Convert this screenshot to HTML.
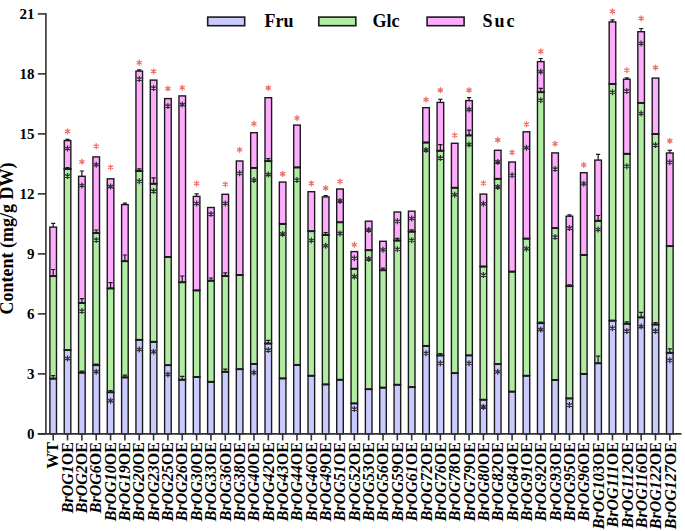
<!DOCTYPE html><html><head><meta charset="utf-8"><style>html,body{margin:0;padding:0;background:#fff;width:685px;height:531px;overflow:hidden}svg{display:block}text{font-family:"Liberation Serif",serif;font-weight:bold}</style></head><body>
<svg width="685" height="531" viewBox="0 0 685 531">
<rect x="49.9" y="378.6" width="6.6" height="55.3" fill="#cacaff" stroke="#1a1a1a" stroke-width="1.4"/>
<rect x="49.9" y="276.1" width="6.6" height="102.5" fill="#b0eca2" stroke="#1a1a1a" stroke-width="1.4"/>
<rect x="49.9" y="227.1" width="6.6" height="49" fill="#ffacff" stroke="#1a1a1a" stroke-width="1.4"/>
<path d="M49.6 378.6H56.8" stroke="#1a1a1a" stroke-width="1.9"/>
<path d="M49.6 276.1H56.8" stroke="#1a1a1a" stroke-width="1.9"/>
<path d="M53.2 378.6V375.7M51.1 375.7H55.3" stroke="#1a1a1a" stroke-width="1.2" fill="none"/>
<path d="M53.2 276.1V269.5M51.1 269.5H55.3" stroke="#1a1a1a" stroke-width="1.2" fill="none"/>
<path d="M53.2 227.1V223.4M51.1 223.4H55.3" stroke="#1a1a1a" stroke-width="1.2" fill="none"/>
<rect x="64.24" y="350.1" width="6.6" height="83.8" fill="#cacaff" stroke="#1a1a1a" stroke-width="1.4"/>
<rect x="64.24" y="168.9" width="6.6" height="181.2" fill="#b0eca2" stroke="#1a1a1a" stroke-width="1.4"/>
<rect x="64.24" y="140.6" width="6.6" height="28.3" fill="#ffacff" stroke="#1a1a1a" stroke-width="1.4"/>
<path d="M63.94 350.1H71.14" stroke="#1a1a1a" stroke-width="1.9"/>
<path d="M63.94 168.9H71.14" stroke="#1a1a1a" stroke-width="1.9"/>
<path d="M67.54 168.9V167.5M65.44 167.5H69.64" stroke="#1a1a1a" stroke-width="1.2" fill="none"/>
<path d="M67.54 140.6V139.3M65.44 139.3H69.64" stroke="#1a1a1a" stroke-width="1.2" fill="none"/>
<path d="M67.54 355.5L67.54 361.5M64.94 357L70.14 360M70.14 357L64.94 360" stroke="#2e2e38" stroke-width="1.25" stroke-linecap="butt" fill="none"/>
<path d="M67.54 173L67.54 179M64.94 174.5L70.14 177.5M70.14 174.5L64.94 177.5" stroke="#2e2e38" stroke-width="1.25" stroke-linecap="butt" fill="none"/>
<path d="M67.54 145.5L67.54 151.5M64.94 147L70.14 150M70.14 147L64.94 150" stroke="#2e2e38" stroke-width="1.25" stroke-linecap="butt" fill="none"/>
<path d="M67.54 128.9L67.54 133.9M65.37 130.15L69.71 132.65M69.71 130.15L65.37 132.65" stroke="#ee7068" stroke-width="1.3" stroke-linecap="round" fill="none"/>
<rect x="78.58" y="372.6" width="6.6" height="61.3" fill="#cacaff" stroke="#1a1a1a" stroke-width="1.4"/>
<rect x="78.58" y="303" width="6.6" height="69.6" fill="#b0eca2" stroke="#1a1a1a" stroke-width="1.4"/>
<rect x="78.58" y="176.3" width="6.6" height="126.7" fill="#ffacff" stroke="#1a1a1a" stroke-width="1.4"/>
<path d="M78.28 372.6H85.48" stroke="#1a1a1a" stroke-width="1.9"/>
<path d="M78.28 303H85.48" stroke="#1a1a1a" stroke-width="1.9"/>
<path d="M81.88 372.6V371.2M79.78 371.2H83.98" stroke="#1a1a1a" stroke-width="1.2" fill="none"/>
<path d="M81.88 303V298.6M79.78 298.6H83.98" stroke="#1a1a1a" stroke-width="1.2" fill="none"/>
<path d="M81.88 176.3V171M79.78 171H83.98" stroke="#1a1a1a" stroke-width="1.2" fill="none"/>
<path d="M81.88 308L81.88 314M79.28 309.5L84.48 312.5M84.48 309.5L79.28 312.5" stroke="#2e2e38" stroke-width="1.25" stroke-linecap="butt" fill="none"/>
<path d="M81.88 182.5L81.88 188.5M79.28 184L84.48 187M84.48 184L79.28 187" stroke="#2e2e38" stroke-width="1.25" stroke-linecap="butt" fill="none"/>
<path d="M81.88 159.2L81.88 164.2M79.71 160.45L84.05 162.95M84.05 160.45L79.71 162.95" stroke="#ee7068" stroke-width="1.3" stroke-linecap="round" fill="none"/>
<rect x="92.92" y="365.2" width="6.6" height="68.7" fill="#cacaff" stroke="#1a1a1a" stroke-width="1.4"/>
<rect x="92.92" y="233.1" width="6.6" height="132.1" fill="#b0eca2" stroke="#1a1a1a" stroke-width="1.4"/>
<rect x="92.92" y="156.9" width="6.6" height="76.2" fill="#ffacff" stroke="#1a1a1a" stroke-width="1.4"/>
<path d="M92.62 365.2H99.82" stroke="#1a1a1a" stroke-width="1.9"/>
<path d="M92.62 233.1H99.82" stroke="#1a1a1a" stroke-width="1.9"/>
<path d="M96.22 365.2V364.1M94.12 364.1H98.32" stroke="#1a1a1a" stroke-width="1.2" fill="none"/>
<path d="M96.22 233.1V230M94.12 230H98.32" stroke="#1a1a1a" stroke-width="1.2" fill="none"/>
<path d="M96.22 368.8L96.22 374.8M93.62 370.3L98.82 373.3M98.82 370.3L93.62 373.3" stroke="#2e2e38" stroke-width="1.25" stroke-linecap="butt" fill="none"/>
<path d="M96.22 237L96.22 243M93.62 238.5L98.82 241.5M98.82 238.5L93.62 241.5" stroke="#2e2e38" stroke-width="1.25" stroke-linecap="butt" fill="none"/>
<path d="M96.22 161.7L96.22 167.7M93.62 163.2L98.82 166.2M98.82 163.2L93.62 166.2" stroke="#2e2e38" stroke-width="1.25" stroke-linecap="butt" fill="none"/>
<path d="M96.22 143.7L96.22 148.7M94.05 144.95L98.39 147.45M98.39 144.95L94.05 147.45" stroke="#ee7068" stroke-width="1.3" stroke-linecap="round" fill="none"/>
<rect x="107.26" y="392.3" width="6.6" height="41.6" fill="#cacaff" stroke="#1a1a1a" stroke-width="1.4"/>
<rect x="107.26" y="288.4" width="6.6" height="103.9" fill="#b0eca2" stroke="#1a1a1a" stroke-width="1.4"/>
<rect x="107.26" y="178.8" width="6.6" height="109.6" fill="#ffacff" stroke="#1a1a1a" stroke-width="1.4"/>
<path d="M106.96 392.3H114.16" stroke="#1a1a1a" stroke-width="1.9"/>
<path d="M106.96 288.4H114.16" stroke="#1a1a1a" stroke-width="1.9"/>
<path d="M110.56 392.3V390.5M108.46 390.5H112.66" stroke="#1a1a1a" stroke-width="1.2" fill="none"/>
<path d="M110.56 288.4V282.7M108.46 282.7H112.66" stroke="#1a1a1a" stroke-width="1.2" fill="none"/>
<path d="M110.56 397.8L110.56 403.8M107.96 399.3L113.16 402.3M113.16 399.3L107.96 402.3" stroke="#2e2e38" stroke-width="1.25" stroke-linecap="butt" fill="none"/>
<path d="M110.56 183.6L110.56 189.6M107.96 185.1L113.16 188.1M113.16 185.1L107.96 188.1" stroke="#2e2e38" stroke-width="1.25" stroke-linecap="butt" fill="none"/>
<path d="M110.56 164.8L110.56 169.8M108.39 166.05L112.73 168.55M112.73 166.05L108.39 168.55" stroke="#ee7068" stroke-width="1.3" stroke-linecap="round" fill="none"/>
<rect x="121.6" y="377.4" width="6.6" height="56.5" fill="#cacaff" stroke="#1a1a1a" stroke-width="1.4"/>
<rect x="121.6" y="261.2" width="6.6" height="116.2" fill="#b0eca2" stroke="#1a1a1a" stroke-width="1.4"/>
<rect x="121.6" y="204.6" width="6.6" height="56.6" fill="#ffacff" stroke="#1a1a1a" stroke-width="1.4"/>
<path d="M121.3 377.4H128.5" stroke="#1a1a1a" stroke-width="1.9"/>
<path d="M121.3 261.2H128.5" stroke="#1a1a1a" stroke-width="1.9"/>
<path d="M124.9 377.4V375.2M122.8 375.2H127" stroke="#1a1a1a" stroke-width="1.2" fill="none"/>
<path d="M124.9 261.2V255M122.8 255H127" stroke="#1a1a1a" stroke-width="1.2" fill="none"/>
<path d="M124.9 204.6V203.2M122.8 203.2H127" stroke="#1a1a1a" stroke-width="1.2" fill="none"/>
<rect x="135.94" y="339.8" width="6.6" height="94.1" fill="#cacaff" stroke="#1a1a1a" stroke-width="1.4"/>
<rect x="135.94" y="171" width="6.6" height="168.8" fill="#b0eca2" stroke="#1a1a1a" stroke-width="1.4"/>
<rect x="135.94" y="71.1" width="6.6" height="99.9" fill="#ffacff" stroke="#1a1a1a" stroke-width="1.4"/>
<path d="M135.64 339.8H142.84" stroke="#1a1a1a" stroke-width="1.9"/>
<path d="M135.64 171H142.84" stroke="#1a1a1a" stroke-width="1.9"/>
<path d="M139.24 171V168.8M137.14 168.8H141.34" stroke="#1a1a1a" stroke-width="1.2" fill="none"/>
<path d="M139.24 71.1V69.8M137.14 69.8H141.34" stroke="#1a1a1a" stroke-width="1.2" fill="none"/>
<path d="M139.24 346.5L139.24 352.5M136.64 348L141.84 351M141.84 348L136.64 351" stroke="#2e2e38" stroke-width="1.25" stroke-linecap="butt" fill="none"/>
<path d="M139.24 178.2L139.24 184.2M136.64 179.7L141.84 182.7M141.84 179.7L136.64 182.7" stroke="#2e2e38" stroke-width="1.25" stroke-linecap="butt" fill="none"/>
<path d="M139.24 76L139.24 82M136.64 77.5L141.84 80.5M141.84 77.5L136.64 80.5" stroke="#2e2e38" stroke-width="1.25" stroke-linecap="butt" fill="none"/>
<path d="M139.24 60.2L139.24 65.2M137.07 61.45L141.41 63.95M141.41 61.45L137.07 63.95" stroke="#ee7068" stroke-width="1.3" stroke-linecap="round" fill="none"/>
<rect x="150.28" y="341.8" width="6.6" height="92.1" fill="#cacaff" stroke="#1a1a1a" stroke-width="1.4"/>
<rect x="150.28" y="183.7" width="6.6" height="158.1" fill="#b0eca2" stroke="#1a1a1a" stroke-width="1.4"/>
<rect x="150.28" y="80.1" width="6.6" height="103.6" fill="#ffacff" stroke="#1a1a1a" stroke-width="1.4"/>
<path d="M149.98 341.8H157.18" stroke="#1a1a1a" stroke-width="1.9"/>
<path d="M149.98 183.7H157.18" stroke="#1a1a1a" stroke-width="1.9"/>
<path d="M153.58 183.7V177.9M151.48 177.9H155.68" stroke="#1a1a1a" stroke-width="1.2" fill="none"/>
<path d="M153.58 348.7L153.58 354.7M150.98 350.2L156.18 353.2M156.18 350.2L150.98 353.2" stroke="#2e2e38" stroke-width="1.25" stroke-linecap="butt" fill="none"/>
<path d="M153.58 188.1L153.58 194.1M150.98 189.6L156.18 192.6M156.18 189.6L150.98 192.6" stroke="#2e2e38" stroke-width="1.25" stroke-linecap="butt" fill="none"/>
<path d="M153.58 85L153.58 91M150.98 86.5L156.18 89.5M156.18 86.5L150.98 89.5" stroke="#2e2e38" stroke-width="1.25" stroke-linecap="butt" fill="none"/>
<path d="M153.58 68.9L153.58 73.9M151.41 70.15L155.75 72.65M155.75 70.15L151.41 72.65" stroke="#ee7068" stroke-width="1.3" stroke-linecap="round" fill="none"/>
<rect x="164.62" y="365.2" width="6.6" height="68.7" fill="#cacaff" stroke="#1a1a1a" stroke-width="1.4"/>
<rect x="164.62" y="257" width="6.6" height="108.2" fill="#b0eca2" stroke="#1a1a1a" stroke-width="1.4"/>
<rect x="164.62" y="98.6" width="6.6" height="158.4" fill="#ffacff" stroke="#1a1a1a" stroke-width="1.4"/>
<path d="M164.32 365.2H171.52" stroke="#1a1a1a" stroke-width="1.9"/>
<path d="M164.32 257H171.52" stroke="#1a1a1a" stroke-width="1.9"/>
<path d="M167.92 371.4L167.92 377.4M165.32 372.9L170.52 375.9M170.52 372.9L165.32 375.9" stroke="#2e2e38" stroke-width="1.25" stroke-linecap="butt" fill="none"/>
<path d="M167.92 103L167.92 109M165.32 104.5L170.52 107.5M170.52 104.5L165.32 107.5" stroke="#2e2e38" stroke-width="1.25" stroke-linecap="butt" fill="none"/>
<path d="M167.92 86.1L167.92 91.1M165.75 87.35L170.09 89.85M170.09 87.35L165.75 89.85" stroke="#ee7068" stroke-width="1.3" stroke-linecap="round" fill="none"/>
<rect x="178.96" y="379.7" width="6.6" height="54.2" fill="#cacaff" stroke="#1a1a1a" stroke-width="1.4"/>
<rect x="178.96" y="282.3" width="6.6" height="97.4" fill="#b0eca2" stroke="#1a1a1a" stroke-width="1.4"/>
<rect x="178.96" y="95.9" width="6.6" height="186.4" fill="#ffacff" stroke="#1a1a1a" stroke-width="1.4"/>
<path d="M178.66 379.7H185.86" stroke="#1a1a1a" stroke-width="1.9"/>
<path d="M178.66 282.3H185.86" stroke="#1a1a1a" stroke-width="1.9"/>
<path d="M182.26 379.7V376.4M180.16 376.4H184.36" stroke="#1a1a1a" stroke-width="1.2" fill="none"/>
<path d="M182.26 282.3V276M180.16 276H184.36" stroke="#1a1a1a" stroke-width="1.2" fill="none"/>
<path d="M182.26 101.6L182.26 107.6M179.66 103.1L184.86 106.1M184.86 103.1L179.66 106.1" stroke="#2e2e38" stroke-width="1.25" stroke-linecap="butt" fill="none"/>
<path d="M182.26 85.3L182.26 90.3M180.09 86.55L184.43 89.05M184.43 86.55L180.09 89.05" stroke="#ee7068" stroke-width="1.3" stroke-linecap="round" fill="none"/>
<rect x="193.3" y="377" width="6.6" height="56.9" fill="#cacaff" stroke="#1a1a1a" stroke-width="1.4"/>
<rect x="193.3" y="290.4" width="6.6" height="86.6" fill="#b0eca2" stroke="#1a1a1a" stroke-width="1.4"/>
<rect x="193.3" y="196.4" width="6.6" height="94" fill="#ffacff" stroke="#1a1a1a" stroke-width="1.4"/>
<path d="M193 377H200.2" stroke="#1a1a1a" stroke-width="1.9"/>
<path d="M193 290.4H200.2" stroke="#1a1a1a" stroke-width="1.9"/>
<path d="M196.6 196.4V193.8M194.5 193.8H198.7" stroke="#1a1a1a" stroke-width="1.2" fill="none"/>
<path d="M196.6 200.5L196.6 206.5M194 202L199.2 205M199.2 202L194 205" stroke="#2e2e38" stroke-width="1.25" stroke-linecap="butt" fill="none"/>
<path d="M196.6 181L196.6 186M194.43 182.25L198.77 184.75M198.77 182.25L194.43 184.75" stroke="#ee7068" stroke-width="1.3" stroke-linecap="round" fill="none"/>
<rect x="207.64" y="381.8" width="6.6" height="52.1" fill="#cacaff" stroke="#1a1a1a" stroke-width="1.4"/>
<rect x="207.64" y="280.7" width="6.6" height="101.1" fill="#b0eca2" stroke="#1a1a1a" stroke-width="1.4"/>
<rect x="207.64" y="207.5" width="6.6" height="73.2" fill="#ffacff" stroke="#1a1a1a" stroke-width="1.4"/>
<path d="M207.34 381.8H214.54" stroke="#1a1a1a" stroke-width="1.9"/>
<path d="M207.34 280.7H214.54" stroke="#1a1a1a" stroke-width="1.9"/>
<path d="M210.94 280.7V278M208.84 278H213.04" stroke="#1a1a1a" stroke-width="1.2" fill="none"/>
<path d="M210.94 211.1L210.94 217.1M208.34 212.6L213.54 215.6M213.54 212.6L208.34 215.6" stroke="#2e2e38" stroke-width="1.25" stroke-linecap="butt" fill="none"/>
<rect x="221.98" y="371.8" width="6.6" height="62.1" fill="#cacaff" stroke="#1a1a1a" stroke-width="1.4"/>
<rect x="221.98" y="276" width="6.6" height="95.8" fill="#b0eca2" stroke="#1a1a1a" stroke-width="1.4"/>
<rect x="221.98" y="194.3" width="6.6" height="81.7" fill="#ffacff" stroke="#1a1a1a" stroke-width="1.4"/>
<path d="M221.68 371.8H228.88" stroke="#1a1a1a" stroke-width="1.9"/>
<path d="M221.68 276H228.88" stroke="#1a1a1a" stroke-width="1.9"/>
<path d="M225.28 371.8V369.1M223.18 369.1H227.38" stroke="#1a1a1a" stroke-width="1.2" fill="none"/>
<path d="M225.28 276V272.9M223.18 272.9H227.38" stroke="#1a1a1a" stroke-width="1.2" fill="none"/>
<path d="M225.28 200.5L225.28 206.5M222.68 202L227.88 205M227.88 202L222.68 205" stroke="#2e2e38" stroke-width="1.25" stroke-linecap="butt" fill="none"/>
<path d="M225.28 181.8L225.28 186.8M223.11 183.05L227.45 185.55M227.45 183.05L223.11 185.55" stroke="#ee7068" stroke-width="1.3" stroke-linecap="round" fill="none"/>
<rect x="236.32" y="369.2" width="6.6" height="64.7" fill="#cacaff" stroke="#1a1a1a" stroke-width="1.4"/>
<rect x="236.32" y="275" width="6.6" height="94.2" fill="#b0eca2" stroke="#1a1a1a" stroke-width="1.4"/>
<rect x="236.32" y="161" width="6.6" height="114" fill="#ffacff" stroke="#1a1a1a" stroke-width="1.4"/>
<path d="M236.02 369.2H243.22" stroke="#1a1a1a" stroke-width="1.9"/>
<path d="M236.02 275H243.22" stroke="#1a1a1a" stroke-width="1.9"/>
<path d="M239.62 170.3L239.62 176.3M237.02 171.8L242.22 174.8M242.22 171.8L237.02 174.8" stroke="#2e2e38" stroke-width="1.25" stroke-linecap="butt" fill="none"/>
<path d="M239.62 147.3L239.62 152.3M237.45 148.55L241.79 151.05M241.79 148.55L237.45 151.05" stroke="#ee7068" stroke-width="1.3" stroke-linecap="round" fill="none"/>
<rect x="250.66" y="363.9" width="6.6" height="70" fill="#cacaff" stroke="#1a1a1a" stroke-width="1.4"/>
<rect x="250.66" y="167.9" width="6.6" height="196" fill="#b0eca2" stroke="#1a1a1a" stroke-width="1.4"/>
<rect x="250.66" y="132.7" width="6.6" height="35.2" fill="#ffacff" stroke="#1a1a1a" stroke-width="1.4"/>
<path d="M250.36 363.9H257.56" stroke="#1a1a1a" stroke-width="1.9"/>
<path d="M250.36 167.9H257.56" stroke="#1a1a1a" stroke-width="1.9"/>
<path d="M253.96 369.6L253.96 375.6M251.36 371.1L256.56 374.1M256.56 371.1L251.36 374.1" stroke="#2e2e38" stroke-width="1.25" stroke-linecap="butt" fill="none"/>
<path d="M253.96 177L253.96 183M251.36 178.5L256.56 181.5M256.56 178.5L251.36 181.5" stroke="#2e2e38" stroke-width="1.25" stroke-linecap="butt" fill="none"/>
<path d="M253.96 121.2L253.96 126.2M251.79 122.45L256.13 124.95M256.13 122.45L251.79 124.95" stroke="#ee7068" stroke-width="1.3" stroke-linecap="round" fill="none"/>
<rect x="265" y="343.5" width="6.6" height="90.4" fill="#cacaff" stroke="#1a1a1a" stroke-width="1.4"/>
<rect x="265" y="161.1" width="6.6" height="182.4" fill="#b0eca2" stroke="#1a1a1a" stroke-width="1.4"/>
<rect x="265" y="97.7" width="6.6" height="63.4" fill="#ffacff" stroke="#1a1a1a" stroke-width="1.4"/>
<path d="M264.7 343.5H271.9" stroke="#1a1a1a" stroke-width="1.9"/>
<path d="M264.7 161.1H271.9" stroke="#1a1a1a" stroke-width="1.9"/>
<path d="M268.3 343.5V340.4M266.2 340.4H270.4" stroke="#1a1a1a" stroke-width="1.2" fill="none"/>
<path d="M268.3 161.1V158.6M266.2 158.6H270.4" stroke="#1a1a1a" stroke-width="1.2" fill="none"/>
<path d="M268.3 347.1L268.3 353.1M265.7 348.6L270.9 351.6M270.9 348.6L265.7 351.6" stroke="#2e2e38" stroke-width="1.25" stroke-linecap="butt" fill="none"/>
<path d="M268.3 171.6L268.3 177.6M265.7 173.1L270.9 176.1M270.9 173.1L265.7 176.1" stroke="#2e2e38" stroke-width="1.25" stroke-linecap="butt" fill="none"/>
<path d="M268.3 85.4L268.3 90.4M266.13 86.65L270.47 89.15M270.47 86.65L266.13 89.15" stroke="#ee7068" stroke-width="1.3" stroke-linecap="round" fill="none"/>
<rect x="279.34" y="378.4" width="6.6" height="55.5" fill="#cacaff" stroke="#1a1a1a" stroke-width="1.4"/>
<rect x="279.34" y="223.9" width="6.6" height="154.5" fill="#b0eca2" stroke="#1a1a1a" stroke-width="1.4"/>
<rect x="279.34" y="182.1" width="6.6" height="41.8" fill="#ffacff" stroke="#1a1a1a" stroke-width="1.4"/>
<path d="M279.04 378.4H286.24" stroke="#1a1a1a" stroke-width="1.9"/>
<path d="M279.04 223.9H286.24" stroke="#1a1a1a" stroke-width="1.9"/>
<path d="M282.64 230.9L282.64 236.9M280.04 232.4L285.24 235.4M285.24 232.4L280.04 235.4" stroke="#2e2e38" stroke-width="1.25" stroke-linecap="butt" fill="none"/>
<path d="M282.64 171.4L282.64 176.4M280.47 172.65L284.81 175.15M284.81 172.65L280.47 175.15" stroke="#ee7068" stroke-width="1.3" stroke-linecap="round" fill="none"/>
<rect x="293.68" y="364.9" width="6.6" height="69" fill="#cacaff" stroke="#1a1a1a" stroke-width="1.4"/>
<rect x="293.68" y="167.4" width="6.6" height="197.5" fill="#b0eca2" stroke="#1a1a1a" stroke-width="1.4"/>
<rect x="293.68" y="125.1" width="6.6" height="42.3" fill="#ffacff" stroke="#1a1a1a" stroke-width="1.4"/>
<path d="M293.38 364.9H300.58" stroke="#1a1a1a" stroke-width="1.9"/>
<path d="M293.38 167.4H300.58" stroke="#1a1a1a" stroke-width="1.9"/>
<path d="M296.98 177L296.98 183M294.38 178.5L299.58 181.5M299.58 178.5L294.38 181.5" stroke="#2e2e38" stroke-width="1.25" stroke-linecap="butt" fill="none"/>
<path d="M296.98 115.5L296.98 120.5M294.81 116.75L299.15 119.25M299.15 116.75L294.81 119.25" stroke="#ee7068" stroke-width="1.3" stroke-linecap="round" fill="none"/>
<rect x="308.02" y="375.7" width="6.6" height="58.2" fill="#cacaff" stroke="#1a1a1a" stroke-width="1.4"/>
<rect x="308.02" y="231.2" width="6.6" height="144.5" fill="#b0eca2" stroke="#1a1a1a" stroke-width="1.4"/>
<rect x="308.02" y="191.7" width="6.6" height="39.5" fill="#ffacff" stroke="#1a1a1a" stroke-width="1.4"/>
<path d="M307.72 375.7H314.92" stroke="#1a1a1a" stroke-width="1.9"/>
<path d="M307.72 231.2H314.92" stroke="#1a1a1a" stroke-width="1.9"/>
<path d="M311.32 237.5L311.32 243.5M308.72 239L313.92 242M313.92 239L308.72 242" stroke="#2e2e38" stroke-width="1.25" stroke-linecap="butt" fill="none"/>
<path d="M311.32 180.9L311.32 185.9M309.15 182.15L313.49 184.65M313.49 182.15L309.15 184.65" stroke="#ee7068" stroke-width="1.3" stroke-linecap="round" fill="none"/>
<rect x="322.36" y="384.4" width="6.6" height="49.5" fill="#cacaff" stroke="#1a1a1a" stroke-width="1.4"/>
<rect x="322.36" y="235" width="6.6" height="149.4" fill="#b0eca2" stroke="#1a1a1a" stroke-width="1.4"/>
<rect x="322.36" y="196.9" width="6.6" height="38.1" fill="#ffacff" stroke="#1a1a1a" stroke-width="1.4"/>
<path d="M322.06 384.4H329.26" stroke="#1a1a1a" stroke-width="1.9"/>
<path d="M322.06 235H329.26" stroke="#1a1a1a" stroke-width="1.9"/>
<path d="M325.66 235V232.6M323.56 232.6H327.76" stroke="#1a1a1a" stroke-width="1.2" fill="none"/>
<path d="M325.66 196.9V195.6M323.56 195.6H327.76" stroke="#1a1a1a" stroke-width="1.2" fill="none"/>
<path d="M325.66 242.8L325.66 248.8M323.06 244.3L328.26 247.3M328.26 244.3L323.06 247.3" stroke="#2e2e38" stroke-width="1.25" stroke-linecap="butt" fill="none"/>
<path d="M325.66 185.6L325.66 190.6M323.49 186.85L327.83 189.35M327.83 186.85L323.49 189.35" stroke="#ee7068" stroke-width="1.3" stroke-linecap="round" fill="none"/>
<rect x="336.7" y="379.7" width="6.6" height="54.2" fill="#cacaff" stroke="#1a1a1a" stroke-width="1.4"/>
<rect x="336.7" y="222.3" width="6.6" height="157.4" fill="#b0eca2" stroke="#1a1a1a" stroke-width="1.4"/>
<rect x="336.7" y="189" width="6.6" height="33.3" fill="#ffacff" stroke="#1a1a1a" stroke-width="1.4"/>
<path d="M336.4 379.7H343.6" stroke="#1a1a1a" stroke-width="1.9"/>
<path d="M336.4 222.3H343.6" stroke="#1a1a1a" stroke-width="1.9"/>
<path d="M340 230.4L340 236.4M337.4 231.9L342.6 234.9M342.6 231.9L337.4 234.9" stroke="#2e2e38" stroke-width="1.25" stroke-linecap="butt" fill="none"/>
<path d="M340 197.9L340 203.9M337.4 199.4L342.6 202.4M342.6 199.4L337.4 202.4" stroke="#2e2e38" stroke-width="1.25" stroke-linecap="butt" fill="none"/>
<path d="M340 179L340 184M337.83 180.25L342.17 182.75M342.17 180.25L337.83 182.75" stroke="#ee7068" stroke-width="1.3" stroke-linecap="round" fill="none"/>
<rect x="351.04" y="403.4" width="6.6" height="30.5" fill="#cacaff" stroke="#1a1a1a" stroke-width="1.4"/>
<rect x="351.04" y="268.7" width="6.6" height="134.7" fill="#b0eca2" stroke="#1a1a1a" stroke-width="1.4"/>
<rect x="351.04" y="251.6" width="6.6" height="17.1" fill="#ffacff" stroke="#1a1a1a" stroke-width="1.4"/>
<path d="M350.74 403.4H357.94" stroke="#1a1a1a" stroke-width="1.9"/>
<path d="M350.74 268.7H357.94" stroke="#1a1a1a" stroke-width="1.9"/>
<path d="M354.34 406L354.34 412M351.74 407.5L356.94 410.5M356.94 407.5L351.74 410.5" stroke="#2e2e38" stroke-width="1.25" stroke-linecap="butt" fill="none"/>
<path d="M354.34 273.6L354.34 279.6M351.74 275.1L356.94 278.1M356.94 275.1L351.74 278.1" stroke="#2e2e38" stroke-width="1.25" stroke-linecap="butt" fill="none"/>
<path d="M354.34 255.2L354.34 261.2M351.74 256.7L356.94 259.7M356.94 256.7L351.74 259.7" stroke="#2e2e38" stroke-width="1.25" stroke-linecap="butt" fill="none"/>
<path d="M354.34 242.2L354.34 247.2M352.17 243.45L356.51 245.95M356.51 243.45L352.17 245.95" stroke="#ee7068" stroke-width="1.3" stroke-linecap="round" fill="none"/>
<rect x="365.38" y="389.2" width="6.6" height="44.7" fill="#cacaff" stroke="#1a1a1a" stroke-width="1.4"/>
<rect x="365.38" y="250.2" width="6.6" height="139" fill="#b0eca2" stroke="#1a1a1a" stroke-width="1.4"/>
<rect x="365.38" y="221.2" width="6.6" height="29" fill="#ffacff" stroke="#1a1a1a" stroke-width="1.4"/>
<path d="M365.08 389.2H372.28" stroke="#1a1a1a" stroke-width="1.9"/>
<path d="M365.08 250.2H372.28" stroke="#1a1a1a" stroke-width="1.9"/>
<path d="M368.68 255.9L368.68 261.9M366.08 257.4L371.28 260.4M371.28 257.4L366.08 260.4" stroke="#2e2e38" stroke-width="1.25" stroke-linecap="butt" fill="none"/>
<path d="M368.68 226.9L368.68 232.9M366.08 228.4L371.28 231.4M371.28 228.4L366.08 231.4" stroke="#2e2e38" stroke-width="1.25" stroke-linecap="butt" fill="none"/>
<rect x="379.72" y="387.6" width="6.6" height="46.3" fill="#cacaff" stroke="#1a1a1a" stroke-width="1.4"/>
<rect x="379.72" y="270.3" width="6.6" height="117.3" fill="#b0eca2" stroke="#1a1a1a" stroke-width="1.4"/>
<rect x="379.72" y="241.3" width="6.6" height="29" fill="#ffacff" stroke="#1a1a1a" stroke-width="1.4"/>
<path d="M379.42 387.6H386.62" stroke="#1a1a1a" stroke-width="1.9"/>
<path d="M379.42 270.3H386.62" stroke="#1a1a1a" stroke-width="1.9"/>
<path d="M383.02 270.3V268.2M380.92 268.2H385.12" stroke="#1a1a1a" stroke-width="1.2" fill="none"/>
<path d="M383.02 246.7L383.02 252.7M380.42 248.2L385.62 251.2M385.62 248.2L380.42 251.2" stroke="#2e2e38" stroke-width="1.25" stroke-linecap="butt" fill="none"/>
<rect x="394.06" y="384.7" width="6.6" height="49.2" fill="#cacaff" stroke="#1a1a1a" stroke-width="1.4"/>
<rect x="394.06" y="240.5" width="6.6" height="144.2" fill="#b0eca2" stroke="#1a1a1a" stroke-width="1.4"/>
<rect x="394.06" y="212" width="6.6" height="28.5" fill="#ffacff" stroke="#1a1a1a" stroke-width="1.4"/>
<path d="M393.76 384.7H400.96" stroke="#1a1a1a" stroke-width="1.9"/>
<path d="M393.76 240.5H400.96" stroke="#1a1a1a" stroke-width="1.9"/>
<path d="M397.36 240.5V238.4M395.26 238.4H399.46" stroke="#1a1a1a" stroke-width="1.2" fill="none"/>
<path d="M397.36 246.2L397.36 252.2M394.76 247.7L399.96 250.7M399.96 247.7L394.76 250.7" stroke="#2e2e38" stroke-width="1.25" stroke-linecap="butt" fill="none"/>
<path d="M397.36 218.2L397.36 224.2M394.76 219.7L399.96 222.7M399.96 219.7L394.76 222.7" stroke="#2e2e38" stroke-width="1.25" stroke-linecap="butt" fill="none"/>
<rect x="408.4" y="387.1" width="6.6" height="46.8" fill="#cacaff" stroke="#1a1a1a" stroke-width="1.4"/>
<rect x="408.4" y="231.6" width="6.6" height="155.5" fill="#b0eca2" stroke="#1a1a1a" stroke-width="1.4"/>
<rect x="408.4" y="211.2" width="6.6" height="20.4" fill="#ffacff" stroke="#1a1a1a" stroke-width="1.4"/>
<path d="M408.1 387.1H415.3" stroke="#1a1a1a" stroke-width="1.9"/>
<path d="M408.1 231.6H415.3" stroke="#1a1a1a" stroke-width="1.9"/>
<path d="M411.7 231.6V229.9M409.6 229.9H413.8" stroke="#1a1a1a" stroke-width="1.2" fill="none"/>
<path d="M411.7 237.3L411.7 243.3M409.1 238.8L414.3 241.8M414.3 238.8L409.1 241.8" stroke="#2e2e38" stroke-width="1.25" stroke-linecap="butt" fill="none"/>
<path d="M411.7 215.5L411.7 221.5M409.1 217L414.3 220M414.3 217L409.1 220" stroke="#2e2e38" stroke-width="1.25" stroke-linecap="butt" fill="none"/>
<rect x="422.74" y="345.9" width="6.6" height="88" fill="#cacaff" stroke="#1a1a1a" stroke-width="1.4"/>
<rect x="422.74" y="142.5" width="6.6" height="203.4" fill="#b0eca2" stroke="#1a1a1a" stroke-width="1.4"/>
<rect x="422.74" y="107.7" width="6.6" height="34.8" fill="#ffacff" stroke="#1a1a1a" stroke-width="1.4"/>
<path d="M422.44 345.9H429.64" stroke="#1a1a1a" stroke-width="1.9"/>
<path d="M422.44 142.5H429.64" stroke="#1a1a1a" stroke-width="1.9"/>
<path d="M426.04 350.3L426.04 356.3M423.44 351.8L428.64 354.8M428.64 351.8L423.44 354.8" stroke="#2e2e38" stroke-width="1.25" stroke-linecap="butt" fill="none"/>
<path d="M426.04 146.9L426.04 152.9M423.44 148.4L428.64 151.4M428.64 148.4L423.44 151.4" stroke="#2e2e38" stroke-width="1.25" stroke-linecap="butt" fill="none"/>
<path d="M426.04 97.1L426.04 102.1M423.87 98.35L428.21 100.85M428.21 98.35L423.87 100.85" stroke="#ee7068" stroke-width="1.3" stroke-linecap="round" fill="none"/>
<rect x="437.08" y="355.4" width="6.6" height="78.5" fill="#cacaff" stroke="#1a1a1a" stroke-width="1.4"/>
<rect x="437.08" y="150.7" width="6.6" height="204.7" fill="#b0eca2" stroke="#1a1a1a" stroke-width="1.4"/>
<rect x="437.08" y="102.4" width="6.6" height="48.3" fill="#ffacff" stroke="#1a1a1a" stroke-width="1.4"/>
<path d="M436.78 355.4H443.98" stroke="#1a1a1a" stroke-width="1.9"/>
<path d="M436.78 150.7H443.98" stroke="#1a1a1a" stroke-width="1.9"/>
<path d="M440.38 355.4V353.6M438.28 353.6H442.48" stroke="#1a1a1a" stroke-width="1.2" fill="none"/>
<path d="M440.38 150.7V144.6M438.28 144.6H442.48" stroke="#1a1a1a" stroke-width="1.2" fill="none"/>
<path d="M440.38 102.4V99.3M438.28 99.3H442.48" stroke="#1a1a1a" stroke-width="1.2" fill="none"/>
<path d="M440.38 360.3L440.38 366.3M437.78 361.8L442.98 364.8M442.98 361.8L437.78 364.8" stroke="#2e2e38" stroke-width="1.25" stroke-linecap="butt" fill="none"/>
<path d="M440.38 155.1L440.38 161.1M437.78 156.6L442.98 159.6M442.98 156.6L437.78 159.6" stroke="#2e2e38" stroke-width="1.25" stroke-linecap="butt" fill="none"/>
<path d="M440.38 87.6L440.38 92.6M438.21 88.85L442.55 91.35M442.55 88.85L438.21 91.35" stroke="#ee7068" stroke-width="1.3" stroke-linecap="round" fill="none"/>
<rect x="451.42" y="373.1" width="6.6" height="60.8" fill="#cacaff" stroke="#1a1a1a" stroke-width="1.4"/>
<rect x="451.42" y="187.7" width="6.6" height="185.4" fill="#b0eca2" stroke="#1a1a1a" stroke-width="1.4"/>
<rect x="451.42" y="143.3" width="6.6" height="44.4" fill="#ffacff" stroke="#1a1a1a" stroke-width="1.4"/>
<path d="M451.12 373.1H458.32" stroke="#1a1a1a" stroke-width="1.9"/>
<path d="M451.12 187.7H458.32" stroke="#1a1a1a" stroke-width="1.9"/>
<path d="M454.72 191.8L454.72 197.8M452.12 193.3L457.32 196.3M457.32 193.3L452.12 196.3" stroke="#2e2e38" stroke-width="1.25" stroke-linecap="butt" fill="none"/>
<path d="M454.72 132.7L454.72 137.7M452.55 133.95L456.89 136.45M456.89 133.95L452.55 136.45" stroke="#ee7068" stroke-width="1.3" stroke-linecap="round" fill="none"/>
<rect x="465.76" y="355.4" width="6.6" height="78.5" fill="#cacaff" stroke="#1a1a1a" stroke-width="1.4"/>
<rect x="465.76" y="135.4" width="6.6" height="220" fill="#b0eca2" stroke="#1a1a1a" stroke-width="1.4"/>
<rect x="465.76" y="100.6" width="6.6" height="34.8" fill="#ffacff" stroke="#1a1a1a" stroke-width="1.4"/>
<path d="M465.46 355.4H472.66" stroke="#1a1a1a" stroke-width="1.9"/>
<path d="M465.46 135.4H472.66" stroke="#1a1a1a" stroke-width="1.9"/>
<path d="M469.06 135.4V130.1M466.96 130.1H471.16" stroke="#1a1a1a" stroke-width="1.2" fill="none"/>
<path d="M469.06 100.6V97.7M466.96 97.7H471.16" stroke="#1a1a1a" stroke-width="1.2" fill="none"/>
<path d="M469.06 360.3L469.06 366.3M466.46 361.8L471.66 364.8M471.66 361.8L466.46 364.8" stroke="#2e2e38" stroke-width="1.25" stroke-linecap="butt" fill="none"/>
<path d="M469.06 141.6L469.06 147.6M466.46 143.1L471.66 146.1M471.66 143.1L466.46 146.1" stroke="#2e2e38" stroke-width="1.25" stroke-linecap="butt" fill="none"/>
<path d="M469.06 106.6L469.06 112.6M466.46 108.1L471.66 111.1M471.66 108.1L466.46 111.1" stroke="#2e2e38" stroke-width="1.25" stroke-linecap="butt" fill="none"/>
<path d="M469.06 87.6L469.06 92.6M466.89 88.85L471.23 91.35M471.23 88.85L466.89 91.35" stroke="#ee7068" stroke-width="1.3" stroke-linecap="round" fill="none"/>
<rect x="480.1" y="399.7" width="6.6" height="34.2" fill="#cacaff" stroke="#1a1a1a" stroke-width="1.4"/>
<rect x="480.1" y="266.5" width="6.6" height="133.2" fill="#b0eca2" stroke="#1a1a1a" stroke-width="1.4"/>
<rect x="480.1" y="194.1" width="6.6" height="72.4" fill="#ffacff" stroke="#1a1a1a" stroke-width="1.4"/>
<path d="M479.8 399.7H487" stroke="#1a1a1a" stroke-width="1.9"/>
<path d="M479.8 266.5H487" stroke="#1a1a1a" stroke-width="1.9"/>
<path d="M483.4 403.9L483.4 409.9M480.8 405.4L486 408.4M486 405.4L480.8 408.4" stroke="#2e2e38" stroke-width="1.25" stroke-linecap="butt" fill="none"/>
<path d="M483.4 272L483.4 278M480.8 273.5L486 276.5M486 273.5L480.8 276.5" stroke="#2e2e38" stroke-width="1.25" stroke-linecap="butt" fill="none"/>
<path d="M483.4 200.8L483.4 206.8M480.8 202.3L486 205.3M486 202.3L480.8 205.3" stroke="#2e2e38" stroke-width="1.25" stroke-linecap="butt" fill="none"/>
<path d="M483.4 180.7L483.4 185.7M481.23 181.95L485.57 184.45M485.57 181.95L481.23 184.45" stroke="#ee7068" stroke-width="1.3" stroke-linecap="round" fill="none"/>
<rect x="494.44" y="364.1" width="6.6" height="69.8" fill="#cacaff" stroke="#1a1a1a" stroke-width="1.4"/>
<rect x="494.44" y="178.8" width="6.6" height="185.3" fill="#b0eca2" stroke="#1a1a1a" stroke-width="1.4"/>
<rect x="494.44" y="150.3" width="6.6" height="28.5" fill="#ffacff" stroke="#1a1a1a" stroke-width="1.4"/>
<path d="M494.14 364.1H501.34" stroke="#1a1a1a" stroke-width="1.9"/>
<path d="M494.14 178.8H501.34" stroke="#1a1a1a" stroke-width="1.9"/>
<path d="M497.74 368.8L497.74 374.8M495.14 370.3L500.34 373.3M500.34 370.3L495.14 373.3" stroke="#2e2e38" stroke-width="1.25" stroke-linecap="butt" fill="none"/>
<path d="M497.74 183.9L497.74 189.9M495.14 185.4L500.34 188.4M500.34 185.4L495.14 188.4" stroke="#2e2e38" stroke-width="1.25" stroke-linecap="butt" fill="none"/>
<path d="M497.74 158.9L497.74 164.9M495.14 160.4L500.34 163.4M500.34 160.4L495.14 163.4" stroke="#2e2e38" stroke-width="1.25" stroke-linecap="butt" fill="none"/>
<path d="M497.74 137.4L497.74 142.4M495.57 138.65L499.91 141.15M499.91 138.65L495.57 141.15" stroke="#ee7068" stroke-width="1.3" stroke-linecap="round" fill="none"/>
<rect x="508.78" y="391.6" width="6.6" height="42.3" fill="#cacaff" stroke="#1a1a1a" stroke-width="1.4"/>
<rect x="508.78" y="271.6" width="6.6" height="120" fill="#b0eca2" stroke="#1a1a1a" stroke-width="1.4"/>
<rect x="508.78" y="162" width="6.6" height="109.6" fill="#ffacff" stroke="#1a1a1a" stroke-width="1.4"/>
<path d="M508.48 391.6H515.68" stroke="#1a1a1a" stroke-width="1.9"/>
<path d="M508.48 271.6H515.68" stroke="#1a1a1a" stroke-width="1.9"/>
<path d="M512.08 172.2L512.08 178.2M509.48 173.7L514.68 176.7M514.68 173.7L509.48 176.7" stroke="#2e2e38" stroke-width="1.25" stroke-linecap="butt" fill="none"/>
<path d="M512.08 149.9L512.08 154.9M509.91 151.15L514.25 153.65M514.25 151.15L509.91 153.65" stroke="#ee7068" stroke-width="1.3" stroke-linecap="round" fill="none"/>
<rect x="523.12" y="375.7" width="6.6" height="58.2" fill="#cacaff" stroke="#1a1a1a" stroke-width="1.4"/>
<rect x="523.12" y="238.6" width="6.6" height="137.1" fill="#b0eca2" stroke="#1a1a1a" stroke-width="1.4"/>
<rect x="523.12" y="131.8" width="6.6" height="106.8" fill="#ffacff" stroke="#1a1a1a" stroke-width="1.4"/>
<path d="M522.82 375.7H530.02" stroke="#1a1a1a" stroke-width="1.9"/>
<path d="M522.82 238.6H530.02" stroke="#1a1a1a" stroke-width="1.9"/>
<path d="M526.42 245.7L526.42 251.7M523.82 247.2L529.02 250.2M529.02 247.2L523.82 250.2" stroke="#2e2e38" stroke-width="1.25" stroke-linecap="butt" fill="none"/>
<path d="M526.42 144.7L526.42 150.7M523.82 146.2L529.02 149.2M529.02 146.2L523.82 149.2" stroke="#2e2e38" stroke-width="1.25" stroke-linecap="butt" fill="none"/>
<path d="M526.42 121.7L526.42 126.7M524.25 122.95L528.59 125.45M528.59 122.95L524.25 125.45" stroke="#ee7068" stroke-width="1.3" stroke-linecap="round" fill="none"/>
<rect x="537.46" y="323.2" width="6.6" height="110.7" fill="#cacaff" stroke="#1a1a1a" stroke-width="1.4"/>
<rect x="537.46" y="92.2" width="6.6" height="231" fill="#b0eca2" stroke="#1a1a1a" stroke-width="1.4"/>
<rect x="537.46" y="61.6" width="6.6" height="30.6" fill="#ffacff" stroke="#1a1a1a" stroke-width="1.4"/>
<path d="M537.16 323.2H544.36" stroke="#1a1a1a" stroke-width="1.9"/>
<path d="M537.16 92.2H544.36" stroke="#1a1a1a" stroke-width="1.9"/>
<path d="M540.76 323.2V322.2M538.66 322.2H542.86" stroke="#1a1a1a" stroke-width="1.2" fill="none"/>
<path d="M540.76 92.2V88.3M538.66 88.3H542.86" stroke="#1a1a1a" stroke-width="1.2" fill="none"/>
<path d="M540.76 61.6V58.5M538.66 58.5H542.86" stroke="#1a1a1a" stroke-width="1.2" fill="none"/>
<path d="M540.76 326.6L540.76 332.6M538.16 328.1L543.36 331.1M543.36 328.1L538.16 331.1" stroke="#2e2e38" stroke-width="1.25" stroke-linecap="butt" fill="none"/>
<path d="M540.76 97.2L540.76 103.2M538.16 98.7L543.36 101.7M543.36 98.7L538.16 101.7" stroke="#2e2e38" stroke-width="1.25" stroke-linecap="butt" fill="none"/>
<path d="M540.76 68.7L540.76 74.7M538.16 70.2L543.36 73.2M543.36 70.2L538.16 73.2" stroke="#2e2e38" stroke-width="1.25" stroke-linecap="butt" fill="none"/>
<path d="M540.76 48.9L540.76 53.9M538.59 50.15L542.93 52.65M542.93 50.15L538.59 52.65" stroke="#ee7068" stroke-width="1.3" stroke-linecap="round" fill="none"/>
<rect x="551.8" y="380" width="6.6" height="53.9" fill="#cacaff" stroke="#1a1a1a" stroke-width="1.4"/>
<rect x="551.8" y="228.1" width="6.6" height="151.9" fill="#b0eca2" stroke="#1a1a1a" stroke-width="1.4"/>
<rect x="551.8" y="152.9" width="6.6" height="75.2" fill="#ffacff" stroke="#1a1a1a" stroke-width="1.4"/>
<path d="M551.5 380H558.7" stroke="#1a1a1a" stroke-width="1.9"/>
<path d="M551.5 228.1H558.7" stroke="#1a1a1a" stroke-width="1.9"/>
<path d="M555.1 234L555.1 240M552.5 235.5L557.7 238.5M557.7 235.5L552.5 238.5" stroke="#2e2e38" stroke-width="1.25" stroke-linecap="butt" fill="none"/>
<path d="M555.1 166L555.1 172M552.5 167.5L557.7 170.5M557.7 167.5L552.5 170.5" stroke="#2e2e38" stroke-width="1.25" stroke-linecap="butt" fill="none"/>
<path d="M555.1 141.2L555.1 146.2M552.93 142.45L557.27 144.95M557.27 142.45L552.93 144.95" stroke="#ee7068" stroke-width="1.3" stroke-linecap="round" fill="none"/>
<rect x="566.14" y="398.4" width="6.6" height="35.5" fill="#cacaff" stroke="#1a1a1a" stroke-width="1.4"/>
<rect x="566.14" y="286.1" width="6.6" height="112.3" fill="#b0eca2" stroke="#1a1a1a" stroke-width="1.4"/>
<rect x="566.14" y="216.2" width="6.6" height="69.9" fill="#ffacff" stroke="#1a1a1a" stroke-width="1.4"/>
<path d="M565.84 398.4H573.04" stroke="#1a1a1a" stroke-width="1.9"/>
<path d="M565.84 286.1H573.04" stroke="#1a1a1a" stroke-width="1.9"/>
<path d="M569.44 286.1V284.8M567.34 284.8H571.54" stroke="#1a1a1a" stroke-width="1.2" fill="none"/>
<path d="M569.44 216.2V214.9M567.34 214.9H571.54" stroke="#1a1a1a" stroke-width="1.2" fill="none"/>
<path d="M569.44 402L569.44 408M566.84 403.5L572.04 406.5M572.04 403.5L566.84 406.5" stroke="#2e2e38" stroke-width="1.25" stroke-linecap="butt" fill="none"/>
<path d="M569.44 225.1L569.44 231.1M566.84 226.6L572.04 229.6M572.04 226.6L566.84 229.6" stroke="#2e2e38" stroke-width="1.25" stroke-linecap="butt" fill="none"/>
<rect x="580.48" y="373.9" width="6.6" height="60" fill="#cacaff" stroke="#1a1a1a" stroke-width="1.4"/>
<rect x="580.48" y="255" width="6.6" height="118.9" fill="#b0eca2" stroke="#1a1a1a" stroke-width="1.4"/>
<rect x="580.48" y="172.7" width="6.6" height="82.3" fill="#ffacff" stroke="#1a1a1a" stroke-width="1.4"/>
<path d="M580.18 373.9H587.38" stroke="#1a1a1a" stroke-width="1.9"/>
<path d="M580.18 255H587.38" stroke="#1a1a1a" stroke-width="1.9"/>
<path d="M583.78 180.7L583.78 186.7M581.18 182.2L586.38 185.2M586.38 182.2L581.18 185.2" stroke="#2e2e38" stroke-width="1.25" stroke-linecap="butt" fill="none"/>
<path d="M583.78 162.5L583.78 167.5M581.61 163.75L585.95 166.25M585.95 163.75L581.61 166.25" stroke="#ee7068" stroke-width="1.3" stroke-linecap="round" fill="none"/>
<rect x="594.82" y="363.3" width="6.6" height="70.6" fill="#cacaff" stroke="#1a1a1a" stroke-width="1.4"/>
<rect x="594.82" y="220.8" width="6.6" height="142.5" fill="#b0eca2" stroke="#1a1a1a" stroke-width="1.4"/>
<rect x="594.82" y="160.1" width="6.6" height="60.7" fill="#ffacff" stroke="#1a1a1a" stroke-width="1.4"/>
<path d="M594.52 363.3H601.72" stroke="#1a1a1a" stroke-width="1.9"/>
<path d="M594.52 220.8H601.72" stroke="#1a1a1a" stroke-width="1.9"/>
<path d="M598.12 363.3V356.2M596.02 356.2H600.22" stroke="#1a1a1a" stroke-width="1.2" fill="none"/>
<path d="M598.12 220.8V215.5M596.02 215.5H600.22" stroke="#1a1a1a" stroke-width="1.2" fill="none"/>
<path d="M598.12 160.1V154.3M596.02 154.3H600.22" stroke="#1a1a1a" stroke-width="1.2" fill="none"/>
<path d="M598.12 226.5L598.12 232.5M595.52 228L600.72 231M600.72 228L595.52 231" stroke="#2e2e38" stroke-width="1.25" stroke-linecap="butt" fill="none"/>
<rect x="609.16" y="320.6" width="6.6" height="113.3" fill="#cacaff" stroke="#1a1a1a" stroke-width="1.4"/>
<rect x="609.16" y="83.9" width="6.6" height="236.7" fill="#b0eca2" stroke="#1a1a1a" stroke-width="1.4"/>
<rect x="609.16" y="21.9" width="6.6" height="62" fill="#ffacff" stroke="#1a1a1a" stroke-width="1.4"/>
<path d="M608.86 320.6H616.06" stroke="#1a1a1a" stroke-width="1.9"/>
<path d="M608.86 83.9H616.06" stroke="#1a1a1a" stroke-width="1.9"/>
<path d="M612.46 21.9V19.8M610.36 19.8H614.56" stroke="#1a1a1a" stroke-width="1.2" fill="none"/>
<path d="M612.46 325.2L612.46 331.2M609.86 326.7L615.06 329.7M615.06 326.7L609.86 329.7" stroke="#2e2e38" stroke-width="1.25" stroke-linecap="butt" fill="none"/>
<path d="M612.46 89.3L612.46 95.3M609.86 90.8L615.06 93.8M615.06 90.8L609.86 93.8" stroke="#2e2e38" stroke-width="1.25" stroke-linecap="butt" fill="none"/>
<path d="M612.46 8.9L612.46 13.9M610.29 10.15L614.63 12.65M614.63 10.15L610.29 12.65" stroke="#ee7068" stroke-width="1.3" stroke-linecap="round" fill="none"/>
<rect x="623.5" y="323.7" width="6.6" height="110.2" fill="#cacaff" stroke="#1a1a1a" stroke-width="1.4"/>
<rect x="623.5" y="153.8" width="6.6" height="169.9" fill="#b0eca2" stroke="#1a1a1a" stroke-width="1.4"/>
<rect x="623.5" y="79.2" width="6.6" height="74.6" fill="#ffacff" stroke="#1a1a1a" stroke-width="1.4"/>
<path d="M623.2 323.7H630.4" stroke="#1a1a1a" stroke-width="1.9"/>
<path d="M623.2 153.8H630.4" stroke="#1a1a1a" stroke-width="1.9"/>
<path d="M626.8 323.7V321.9M624.7 321.9H628.9" stroke="#1a1a1a" stroke-width="1.2" fill="none"/>
<path d="M626.8 79.2V77.8M624.7 77.8H628.9" stroke="#1a1a1a" stroke-width="1.2" fill="none"/>
<path d="M626.8 328.1L626.8 334.1M624.2 329.6L629.4 332.6M629.4 329.6L624.2 332.6" stroke="#2e2e38" stroke-width="1.25" stroke-linecap="butt" fill="none"/>
<path d="M626.8 163.2L626.8 169.2M624.2 164.7L629.4 167.7M629.4 164.7L624.2 167.7" stroke="#2e2e38" stroke-width="1.25" stroke-linecap="butt" fill="none"/>
<path d="M626.8 88L626.8 94M624.2 89.5L629.4 92.5M629.4 89.5L624.2 92.5" stroke="#2e2e38" stroke-width="1.25" stroke-linecap="butt" fill="none"/>
<path d="M626.8 67.7L626.8 72.7M624.63 68.95L628.97 71.45M628.97 68.95L624.63 71.45" stroke="#ee7068" stroke-width="1.3" stroke-linecap="round" fill="none"/>
<rect x="637.84" y="317.4" width="6.6" height="116.5" fill="#cacaff" stroke="#1a1a1a" stroke-width="1.4"/>
<rect x="637.84" y="102.9" width="6.6" height="214.5" fill="#b0eca2" stroke="#1a1a1a" stroke-width="1.4"/>
<rect x="637.84" y="31.7" width="6.6" height="71.2" fill="#ffacff" stroke="#1a1a1a" stroke-width="1.4"/>
<path d="M637.54 317.4H644.74" stroke="#1a1a1a" stroke-width="1.9"/>
<path d="M637.54 102.9H644.74" stroke="#1a1a1a" stroke-width="1.9"/>
<path d="M641.14 317.4V312.4M639.04 312.4H643.24" stroke="#1a1a1a" stroke-width="1.2" fill="none"/>
<path d="M641.14 31.7V28.5M639.04 28.5H643.24" stroke="#1a1a1a" stroke-width="1.2" fill="none"/>
<path d="M641.14 323.6L641.14 329.6M638.54 325.1L643.74 328.1M643.74 325.1L638.54 328.1" stroke="#2e2e38" stroke-width="1.25" stroke-linecap="butt" fill="none"/>
<path d="M641.14 110.5L641.14 116.5M638.54 112L643.74 115M643.74 112L638.54 115" stroke="#2e2e38" stroke-width="1.25" stroke-linecap="butt" fill="none"/>
<path d="M641.14 40.5L641.14 46.5M638.54 42L643.74 45M643.74 42L638.54 45" stroke="#2e2e38" stroke-width="1.25" stroke-linecap="butt" fill="none"/>
<path d="M641.14 15.9L641.14 20.9M638.97 17.15L643.31 19.65M643.31 17.15L638.97 19.65" stroke="#ee7068" stroke-width="1.3" stroke-linecap="round" fill="none"/>
<rect x="652.18" y="324.5" width="6.6" height="109.4" fill="#cacaff" stroke="#1a1a1a" stroke-width="1.4"/>
<rect x="652.18" y="134" width="6.6" height="190.5" fill="#b0eca2" stroke="#1a1a1a" stroke-width="1.4"/>
<rect x="652.18" y="78.1" width="6.6" height="55.9" fill="#ffacff" stroke="#1a1a1a" stroke-width="1.4"/>
<path d="M651.88 324.5H659.08" stroke="#1a1a1a" stroke-width="1.9"/>
<path d="M651.88 134H659.08" stroke="#1a1a1a" stroke-width="1.9"/>
<path d="M655.48 324.5V322.7M653.38 322.7H657.58" stroke="#1a1a1a" stroke-width="1.2" fill="none"/>
<path d="M655.48 328.1L655.48 334.1M652.88 329.6L658.08 332.6M658.08 329.6L652.88 332.6" stroke="#2e2e38" stroke-width="1.25" stroke-linecap="butt" fill="none"/>
<path d="M655.48 142.1L655.48 148.1M652.88 143.6L658.08 146.6M658.08 143.6L652.88 146.6" stroke="#2e2e38" stroke-width="1.25" stroke-linecap="butt" fill="none"/>
<path d="M655.48 65.1L655.48 70.1M653.31 66.35L657.65 68.85M657.65 66.35L653.31 68.85" stroke="#ee7068" stroke-width="1.3" stroke-linecap="round" fill="none"/>
<rect x="666.52" y="352.8" width="6.6" height="81.1" fill="#cacaff" stroke="#1a1a1a" stroke-width="1.4"/>
<rect x="666.52" y="246.1" width="6.6" height="106.7" fill="#b0eca2" stroke="#1a1a1a" stroke-width="1.4"/>
<rect x="666.52" y="153" width="6.6" height="93.1" fill="#ffacff" stroke="#1a1a1a" stroke-width="1.4"/>
<path d="M666.22 352.8H673.42" stroke="#1a1a1a" stroke-width="1.9"/>
<path d="M666.22 246.1H673.42" stroke="#1a1a1a" stroke-width="1.9"/>
<path d="M669.82 352.8V348.8M667.72 348.8H671.92" stroke="#1a1a1a" stroke-width="1.2" fill="none"/>
<path d="M669.82 153V150.3M667.72 150.3H671.92" stroke="#1a1a1a" stroke-width="1.2" fill="none"/>
<path d="M669.82 357.2L669.82 363.2M667.22 358.7L672.42 361.7M672.42 358.7L667.22 361.7" stroke="#2e2e38" stroke-width="1.25" stroke-linecap="butt" fill="none"/>
<path d="M669.82 159.2L669.82 165.2M667.22 160.7L672.42 163.7M672.42 160.7L667.22 163.7" stroke="#2e2e38" stroke-width="1.25" stroke-linecap="butt" fill="none"/>
<path d="M669.82 138.4L669.82 143.4M667.65 139.65L671.99 142.15M671.99 139.65L667.65 142.15" stroke="#ee7068" stroke-width="1.3" stroke-linecap="round" fill="none"/>
<path d="M45.9 13.3V434.6M37.8 433.9H681.5" stroke="#333333" stroke-width="1.6" fill="none"/>
<path d="M37.8 433.9H46" stroke="#333333" stroke-width="1.6"/>
<text x="34.5" y="438.7" font-size="15" text-anchor="end">0</text>
<path d="M37.8 373.9H46" stroke="#333333" stroke-width="1.6"/>
<text x="34.5" y="378.7" font-size="15" text-anchor="end">3</text>
<path d="M37.8 313.9H46" stroke="#333333" stroke-width="1.6"/>
<text x="34.5" y="318.7" font-size="15" text-anchor="end">6</text>
<path d="M37.8 253.9H46" stroke="#333333" stroke-width="1.6"/>
<text x="34.5" y="258.7" font-size="15" text-anchor="end">9</text>
<path d="M37.8 193.9H46" stroke="#333333" stroke-width="1.6"/>
<text x="34.5" y="198.7" font-size="15" text-anchor="end">12</text>
<path d="M37.8 133.9H46" stroke="#333333" stroke-width="1.6"/>
<text x="34.5" y="138.7" font-size="15" text-anchor="end">15</text>
<path d="M37.8 73.9H46" stroke="#333333" stroke-width="1.6"/>
<text x="34.5" y="78.7" font-size="15" text-anchor="end">18</text>
<path d="M37.8 13.9H46" stroke="#333333" stroke-width="1.6"/>
<text x="34.5" y="18.7" font-size="15" text-anchor="end">21</text>
<path d="M53.2 433.9V440.4" stroke="#333333" stroke-width="1.6"/>
<text transform="translate(58.2 442) rotate(-90)" x="0" y="0" font-size="16" text-anchor="end">WT</text>
<path d="M67.54 433.9V440.4" stroke="#333333" stroke-width="1.6"/>
<text transform="translate(72.56 442) rotate(-90)" x="0" y="0" font-size="16" text-anchor="end"><tspan font-style="italic">BrOG1</tspan>OE</text>
<path d="M81.88 433.9V440.4" stroke="#333333" stroke-width="1.6"/>
<text transform="translate(86.92 442) rotate(-90)" x="0" y="0" font-size="16" text-anchor="end"><tspan font-style="italic">BrOG2</tspan>OE</text>
<path d="M96.22 433.9V440.4" stroke="#333333" stroke-width="1.6"/>
<text transform="translate(101.28 442) rotate(-90)" x="0" y="0" font-size="16" text-anchor="end"><tspan font-style="italic">BrOG6</tspan>OE</text>
<path d="M110.56 433.9V440.4" stroke="#333333" stroke-width="1.6"/>
<text transform="translate(115.63 442) rotate(-90)" x="0" y="0" font-size="16" text-anchor="end"><tspan font-style="italic">BrOG10</tspan>OE</text>
<path d="M124.9 433.9V440.4" stroke="#333333" stroke-width="1.6"/>
<text transform="translate(129.99 442) rotate(-90)" x="0" y="0" font-size="16" text-anchor="end"><tspan font-style="italic">BrOG19</tspan>OE</text>
<path d="M139.24 433.9V440.4" stroke="#333333" stroke-width="1.6"/>
<text transform="translate(144.35 442) rotate(-90)" x="0" y="0" font-size="16" text-anchor="end"><tspan font-style="italic">BrOG20</tspan>OE</text>
<path d="M153.58 433.9V440.4" stroke="#333333" stroke-width="1.6"/>
<text transform="translate(158.71 442) rotate(-90)" x="0" y="0" font-size="16" text-anchor="end"><tspan font-style="italic">BrOG23</tspan>OE</text>
<path d="M167.92 433.9V440.4" stroke="#333333" stroke-width="1.6"/>
<text transform="translate(173.07 442) rotate(-90)" x="0" y="0" font-size="16" text-anchor="end"><tspan font-style="italic">BrOG25</tspan>OE</text>
<path d="M182.26 433.9V440.4" stroke="#333333" stroke-width="1.6"/>
<text transform="translate(187.43 442) rotate(-90)" x="0" y="0" font-size="16" text-anchor="end"><tspan font-style="italic">BrOG26</tspan>OE</text>
<path d="M196.6 433.9V440.4" stroke="#333333" stroke-width="1.6"/>
<text transform="translate(201.79 442) rotate(-90)" x="0" y="0" font-size="16" text-anchor="end"><tspan font-style="italic">BrOG30</tspan>OE</text>
<path d="M210.94 433.9V440.4" stroke="#333333" stroke-width="1.6"/>
<text transform="translate(216.14 442) rotate(-90)" x="0" y="0" font-size="16" text-anchor="end"><tspan font-style="italic">BrOG33</tspan>OE</text>
<path d="M225.28 433.9V440.4" stroke="#333333" stroke-width="1.6"/>
<text transform="translate(230.5 442) rotate(-90)" x="0" y="0" font-size="16" text-anchor="end"><tspan font-style="italic">BrOG36</tspan>OE</text>
<path d="M239.62 433.9V440.4" stroke="#333333" stroke-width="1.6"/>
<text transform="translate(244.86 442) rotate(-90)" x="0" y="0" font-size="16" text-anchor="end"><tspan font-style="italic">BrOG38</tspan>OE</text>
<path d="M253.96 433.9V440.4" stroke="#333333" stroke-width="1.6"/>
<text transform="translate(259.22 442) rotate(-90)" x="0" y="0" font-size="16" text-anchor="end"><tspan font-style="italic">BrOG40</tspan>OE</text>
<path d="M268.3 433.9V440.4" stroke="#333333" stroke-width="1.6"/>
<text transform="translate(273.58 442) rotate(-90)" x="0" y="0" font-size="16" text-anchor="end"><tspan font-style="italic">BrOG42</tspan>OE</text>
<path d="M282.64 433.9V440.4" stroke="#333333" stroke-width="1.6"/>
<text transform="translate(287.94 442) rotate(-90)" x="0" y="0" font-size="16" text-anchor="end"><tspan font-style="italic">BrOG43</tspan>OE</text>
<path d="M296.98 433.9V440.4" stroke="#333333" stroke-width="1.6"/>
<text transform="translate(302.3 442) rotate(-90)" x="0" y="0" font-size="16" text-anchor="end"><tspan font-style="italic">BrOG44</tspan>OE</text>
<path d="M311.32 433.9V440.4" stroke="#333333" stroke-width="1.6"/>
<text transform="translate(316.65 442) rotate(-90)" x="0" y="0" font-size="16" text-anchor="end"><tspan font-style="italic">BrOG46</tspan>OE</text>
<path d="M325.66 433.9V440.4" stroke="#333333" stroke-width="1.6"/>
<text transform="translate(331.01 442) rotate(-90)" x="0" y="0" font-size="16" text-anchor="end"><tspan font-style="italic">BrOG49</tspan>OE</text>
<path d="M340 433.9V440.4" stroke="#333333" stroke-width="1.6"/>
<text transform="translate(345.37 442) rotate(-90)" x="0" y="0" font-size="16" text-anchor="end"><tspan font-style="italic">BrOG51</tspan>OE</text>
<path d="M354.34 433.9V440.4" stroke="#333333" stroke-width="1.6"/>
<text transform="translate(359.73 442) rotate(-90)" x="0" y="0" font-size="16" text-anchor="end"><tspan font-style="italic">BrOG52</tspan>OE</text>
<path d="M368.68 433.9V440.4" stroke="#333333" stroke-width="1.6"/>
<text transform="translate(374.09 442) rotate(-90)" x="0" y="0" font-size="16" text-anchor="end"><tspan font-style="italic">BrOG53</tspan>OE</text>
<path d="M383.02 433.9V440.4" stroke="#333333" stroke-width="1.6"/>
<text transform="translate(388.45 442) rotate(-90)" x="0" y="0" font-size="16" text-anchor="end"><tspan font-style="italic">BrOG56</tspan>OE</text>
<path d="M397.36 433.9V440.4" stroke="#333333" stroke-width="1.6"/>
<text transform="translate(402.81 442) rotate(-90)" x="0" y="0" font-size="16" text-anchor="end"><tspan font-style="italic">BrOG59</tspan>OE</text>
<path d="M411.7 433.9V440.4" stroke="#333333" stroke-width="1.6"/>
<text transform="translate(417.17 442) rotate(-90)" x="0" y="0" font-size="16" text-anchor="end"><tspan font-style="italic">BrOG61</tspan>OE</text>
<path d="M426.04 433.9V440.4" stroke="#333333" stroke-width="1.6"/>
<text transform="translate(431.52 442) rotate(-90)" x="0" y="0" font-size="16" text-anchor="end"><tspan font-style="italic">BrOG72</tspan>OE</text>
<path d="M440.38 433.9V440.4" stroke="#333333" stroke-width="1.6"/>
<text transform="translate(445.88 442) rotate(-90)" x="0" y="0" font-size="16" text-anchor="end"><tspan font-style="italic">BrOG76</tspan>OE</text>
<path d="M454.72 433.9V440.4" stroke="#333333" stroke-width="1.6"/>
<text transform="translate(460.24 442) rotate(-90)" x="0" y="0" font-size="16" text-anchor="end"><tspan font-style="italic">BrOG78</tspan>OE</text>
<path d="M469.06 433.9V440.4" stroke="#333333" stroke-width="1.6"/>
<text transform="translate(474.6 442) rotate(-90)" x="0" y="0" font-size="16" text-anchor="end"><tspan font-style="italic">BrOG79</tspan>OE</text>
<path d="M483.4 433.9V440.4" stroke="#333333" stroke-width="1.6"/>
<text transform="translate(488.96 442) rotate(-90)" x="0" y="0" font-size="16" text-anchor="end"><tspan font-style="italic">BrOG80</tspan>OE</text>
<path d="M497.74 433.9V440.4" stroke="#333333" stroke-width="1.6"/>
<text transform="translate(503.32 442) rotate(-90)" x="0" y="0" font-size="16" text-anchor="end"><tspan font-style="italic">BrOG82</tspan>OE</text>
<path d="M512.08 433.9V440.4" stroke="#333333" stroke-width="1.6"/>
<text transform="translate(517.68 442) rotate(-90)" x="0" y="0" font-size="16" text-anchor="end"><tspan font-style="italic">BrOG84</tspan>OE</text>
<path d="M526.42 433.9V440.4" stroke="#333333" stroke-width="1.6"/>
<text transform="translate(532.03 442) rotate(-90)" x="0" y="0" font-size="16" text-anchor="end"><tspan font-style="italic">BrOG91</tspan>OE</text>
<path d="M540.76 433.9V440.4" stroke="#333333" stroke-width="1.6"/>
<text transform="translate(546.39 442) rotate(-90)" x="0" y="0" font-size="16" text-anchor="end"><tspan font-style="italic">BrOG92</tspan>OE</text>
<path d="M555.1 433.9V440.4" stroke="#333333" stroke-width="1.6"/>
<text transform="translate(560.75 442) rotate(-90)" x="0" y="0" font-size="16" text-anchor="end"><tspan font-style="italic">BrOG93</tspan>OE</text>
<path d="M569.44 433.9V440.4" stroke="#333333" stroke-width="1.6"/>
<text transform="translate(575.11 442) rotate(-90)" x="0" y="0" font-size="16" text-anchor="end"><tspan font-style="italic">BrOG95</tspan>OE</text>
<path d="M583.78 433.9V440.4" stroke="#333333" stroke-width="1.6"/>
<text transform="translate(589.47 442) rotate(-90)" x="0" y="0" font-size="16" text-anchor="end"><tspan font-style="italic">BrOG96</tspan>OE</text>
<path d="M598.12 433.9V440.4" stroke="#333333" stroke-width="1.6"/>
<text transform="translate(603.83 442) rotate(-90)" x="0" y="0" font-size="16" text-anchor="end"><tspan font-style="italic">BrOG103</tspan>OE</text>
<path d="M612.46 433.9V440.4" stroke="#333333" stroke-width="1.6"/>
<text transform="translate(618.19 442) rotate(-90)" x="0" y="0" font-size="16" text-anchor="end"><tspan font-style="italic">BrOG111</tspan>OE</text>
<path d="M626.8 433.9V440.4" stroke="#333333" stroke-width="1.6"/>
<text transform="translate(632.54 442) rotate(-90)" x="0" y="0" font-size="16" text-anchor="end"><tspan font-style="italic">BrOG112</tspan>OE</text>
<path d="M641.14 433.9V440.4" stroke="#333333" stroke-width="1.6"/>
<text transform="translate(646.9 442) rotate(-90)" x="0" y="0" font-size="16" text-anchor="end"><tspan font-style="italic">BrOG116</tspan>OE</text>
<path d="M655.48 433.9V440.4" stroke="#333333" stroke-width="1.6"/>
<text transform="translate(661.26 442) rotate(-90)" x="0" y="0" font-size="16" text-anchor="end"><tspan font-style="italic">BrOG122</tspan>OE</text>
<path d="M669.82 433.9V440.4" stroke="#333333" stroke-width="1.6"/>
<text transform="translate(675.62 442) rotate(-90)" x="0" y="0" font-size="16" text-anchor="end"><tspan font-style="italic">BrOG127</tspan>OE</text>
<text transform="translate(13.4 238.6) rotate(-90)" font-size="18" text-anchor="middle">Content (mg/g DW)</text>
<rect x="207.7" y="17.1" width="37" height="8.6" fill="#cacaff" stroke="#1a1a1a" stroke-width="1.6"/>
<text x="264.5" y="26.8" font-size="18" letter-spacing="0">Fru</text>
<rect x="318.8" y="17.1" width="37" height="8.6" fill="#b0eca2" stroke="#1a1a1a" stroke-width="1.6"/>
<text x="372.5" y="26.8" font-size="18" letter-spacing="0">Glc</text>
<rect x="427.1" y="17.1" width="37" height="8.6" fill="#ffacff" stroke="#1a1a1a" stroke-width="1.6"/>
<text x="482.4" y="26.8" font-size="18" letter-spacing="2">Suc</text>
</svg></body></html>
